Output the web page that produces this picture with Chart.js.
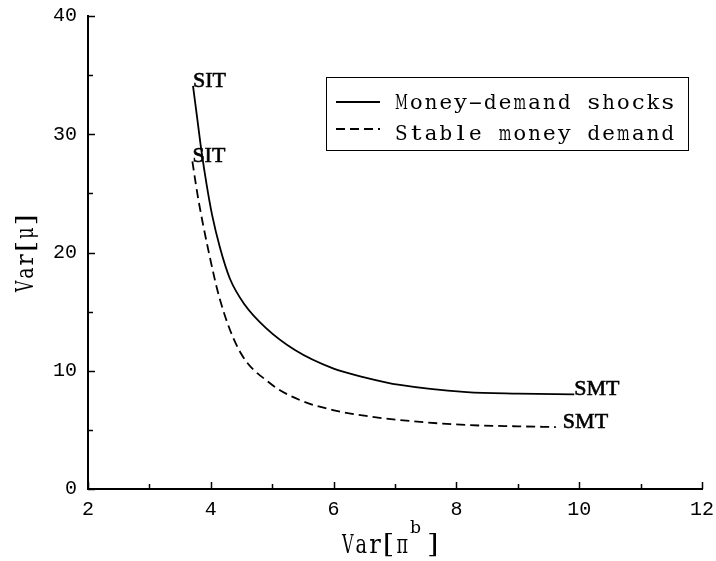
<!DOCTYPE html>
<html>
<head>
<meta charset="utf-8">
<script src="https://cdn.jsdelivr.net/npm/chart.js@4.4.1/dist/chart.umd.min.js"></script>
<style>
  html, body { margin: 0; padding: 0; background: #fff; }
  #wrap { width: 716px; height: 561px; }
</style>
</head>
<body>
<div id="wrap"><canvas id="c" width="716" height="561"></canvas></div>
<script>
// values
const shockX = [3.71, 3.78, 3.85, 3.93, 4.02, 4.15, 4.31, 4.55, 4.9, 5.37, 5.99, 6.5, 7.08, 8.17, 9.0, 9.92];
const shockY = [34.1, 31.3, 28.5, 25.8, 23.2, 20.4, 17.8, 15.6, 13.6, 11.75, 10.2, 9.45, 8.8, 8.2, 8.07, 8.0];
const stableX = [3.70, 3.75, 3.80, 3.96, 4.15, 4.46, 4.96, 5.45, 5.99, 6.5, 7.08, 8.17, 9.0, 9.62];
const stableY = [27.7, 26.0, 24.4, 20.2, 16.0, 11.75, 8.96, 7.52, 6.68, 6.2, 5.83, 5.41, 5.3, 5.24];
const seriesNames = ['Money-demand shocks', 'Stable money demand'];
const xRange = [2, 12];
const yRange = [0, 40];
const xLabelTicks = [2, 4, 6, 8, 10, 12];
const yLabelTicks = [0, 10, 20, 30, 40];
const startLabel = 'SIT';
const endLabel = 'SMT';

const MONO = '"Liberation Mono", "DejaVu Sans Mono", monospace';
const SERIF = '"Liberation Serif", "DejaVu Serif", serif';
const SLAB = '"DejaVu Serif", "Liberation Serif", serif';

function pts(xs, ys) {
  return xs.map((x, i) => ({ x, y: ys[i] }));
}

// typewriter look: each glyph fitted into a fixed cell
function cellText(ctx, text, x, y, size, cell) {
  ctx.font = size + 'px ' + SLAB;
  ctx.textAlign = 'center';
  ctx.textBaseline = 'alphabetic';
  for (let i = 0; i < text.length; i++) {
    const ch = text[i];
    if (ch === ' ') continue;
    const w = ctx.measureText(ch).width;
    let sx = Math.max(0.6, Math.min(1.25, (cell * 0.85) / w));
    if (ch === '-') sx = cell / w;   // long typewriter dash
    ctx.save();
    ctx.translate(x + cell * i + cell / 2, y);
    ctx.scale(sx, 1);
    ctx.fillText(ch, 0, 0);
    ctx.restore();
  }
}

const whiteBg = {
  id: 'whiteBg',
  beforeDraw(chart) {
    const ctx = chart.ctx;
    ctx.save();
    ctx.fillStyle = '#fff';
    ctx.fillRect(0, 0, chart.width, chart.height);
    ctx.restore();
  }
};

// inward ticks, major where a label sits
const innerTicks = {
  id: 'innerTicks',
  afterDraw(chart) {
    const ctx = chart.ctx;
    const xs = chart.scales.x, ys = chart.scales.y;
    const a = chart.chartArea;
    ctx.save();
    ctx.strokeStyle = '#000';
    ctx.lineWidth = 1.5;
    xs.ticks.forEach(t => {
      const px = Math.round(xs.getPixelForValue(t.value)) + 0.5;
      const len = xLabelTicks.includes(t.value) ? 7 : 5;
      ctx.beginPath();
      ctx.moveTo(px, a.bottom);
      ctx.lineTo(px, a.bottom - len);
      ctx.stroke();
    });
    ys.ticks.forEach(t => {
      const py = Math.round(ys.getPixelForValue(t.value)) + 0.5;
      const len = yLabelTicks.includes(t.value) ? 7 : 5;
      ctx.beginPath();
      ctx.moveTo(a.left, py);
      ctx.lineTo(a.left + len, py);
      ctx.stroke();
    });
    ctx.restore();
  }
};

// SIT / SMT at the ends of each curve
const endLabels = {
  id: 'endLabels',
  afterDatasetsDraw(chart) {
    const ctx = chart.ctx;
    ctx.save();
    ctx.fillStyle = '#000';
    ctx.strokeStyle = '#000';
    ctx.lineWidth = 0.6;
    ctx.font = '22px ' + SERIF;
    ctx.textAlign = 'left';
    ctx.textBaseline = 'alphabetic';
    chart.data.datasets.forEach((ds, i) => {
      const meta = chart.getDatasetMeta(i);
      const first = meta.data[0], last = meta.data[meta.data.length - 1];
      const spots = [
        [startLabel, first.x, first.y + 1],
        [endLabel, last.x + (i === 0 ? 0 : 7), last.y + 1]
      ];
      spots.forEach(([t, x, y]) => {
        ctx.fillText(t, x, y);
        ctx.strokeText(t, x, y);
      });
    });
    ctx.restore();
  }
};

// boxed legend and axis titles
const frameText = {
  id: 'frameText',
  afterDraw(chart) {
    const ctx = chart.ctx;
    ctx.save();
    ctx.fillStyle = '#000';
    ctx.strokeStyle = '#000';

    // legend box
    ctx.lineWidth = 1;
    ctx.strokeRect(326.5, 77.5, 362, 73);
    const rows = [102, 129];
    const bases = [109, 140];
    chart.data.datasets.forEach((ds, i) => {
      ctx.save();
      ctx.lineWidth = ds.borderWidth;
      ctx.setLineDash(ds.borderDash || []);
      ctx.beginPath();
      ctx.moveTo(336, rows[i]);
      ctx.lineTo(380, rows[i]);
      ctx.stroke();
      ctx.restore();
      cellText(ctx, ds.label, 394, bases[i], 21, 14.8);
    });

    // x title: Var[pi^b]
    cellText(ctx, 'Var[π', 341, 553, 26, 13.6);
    cellText(ctx, 'b', 409, 533, 16, 13);
    cellText(ctx, ']', 426, 553, 26, 13.6);

    // y title: Var[mu]
    ctx.save();
    ctx.translate(33, 253);
    ctx.rotate(-Math.PI / 2);
    cellText(ctx, 'Var[μ]', -40, 0, 25, 13.3);
    ctx.restore();

    ctx.restore();
  }
};

new Chart(document.getElementById('c'), {
  type: 'line',
  data: {
    datasets: [
      {
        label: seriesNames[0],
        data: pts(shockX, shockY),
        borderColor: '#000',
        borderWidth: 1.8,
        pointRadius: 0,
        fill: false,
        cubicInterpolationMode: 'monotone'
      },
      {
        label: seriesNames[1],
        data: pts(stableX, stableY),
        borderColor: '#000',
        borderWidth: 1.8,
        borderDash: [9, 5],
        pointRadius: 0,
        fill: false,
        cubicInterpolationMode: 'monotone'
      }
    ]
  },
  options: {
    responsive: false,
    devicePixelRatio: 1,
    animation: false,
    layout: { padding: { top: 16, right: 14, left: 0, bottom: 0 } },
    plugins: {
      legend: { display: false },
      tooltip: { enabled: false }
    },
    scales: {
      x: {
        type: 'linear',
        min: xRange[0],
        max: xRange[1],
        afterFit: s => { s.height = 72; s.paddingLeft = 0; s.paddingRight = 0; },
        border: { display: true, color: '#000', width: 2 },
        grid: { display: false, drawTicks: false },
        ticks: {
          stepSize: 1,
          padding: 9,
          autoSkip: false,
          maxRotation: 0,
          color: '#000',
          font: { family: MONO, size: 20 },
          callback: v => xLabelTicks.includes(v) ? String(v) : ''
        }
      },
      y: {
        type: 'linear',
        min: yRange[0],
        max: yRange[1],
        afterFit: s => { s.width = 88; s.paddingTop = 0; s.paddingBottom = 0; },
        border: { display: true, color: '#000', width: 2 },
        grid: { display: false, drawTicks: false },
        ticks: {
          stepSize: 5,
          padding: 11,
          autoSkip: false,
          color: '#000',
          font: { family: MONO, size: 20 },
          callback: v => yLabelTicks.includes(v) ? String(v) : ''
        }
      }
    }
  },
  plugins: [whiteBg, innerTicks, endLabels, frameText]
});
</script>
</body>
</html>
